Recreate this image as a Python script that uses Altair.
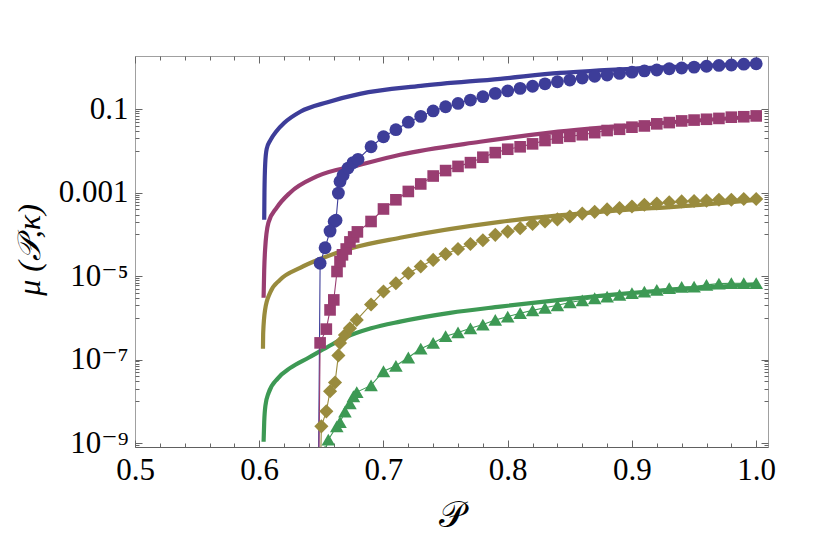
import altair as alt
import pandas as pd

# ---------------- series / styling keys ----------------
SERIES = ["s1", "s2", "s3", "s4"]
COLORS = ["#3D3D99", "#993D71", "#998B3D", "#3D9954"]
SHAPES = ["circle", "square", "diamond", "triangle-up"]
SIZES = [165, 135, 200, 185]

# ---------------- analytic (thick) curves ----------------
blue_curve_x = [0.6040, 0.6042, 0.6048, 0.6060, 0.6090, 0.6140, 0.6200, 0.6330, 0.6550, 0.6810, 0.7300, 0.7940, 0.8420, 0.9150, 1.0000]
blue_curve_y = [2.24e-4, 1.0e-3, 5.0e-3, 1.12e-2, 1.82e-2, 3.02e-2, 4.68e-2, 8.71e-2, 0.148, 0.234, 0.363, 0.537, 0.741, 0.977, 1.23]

magenta_curve_x = [0.6035, 0.6040, 0.6047, 0.6074, 0.6141, 0.6248, 0.6463, 0.6812, 0.7134, 0.7778, 0.8341, 0.9147, 1.0000]
magenta_curve_y = [3.02e-6, 1.41e-5, 4.27e-5, 1.91e-4, 4.37e-4, 1.0e-3, 2.45e-3, 4.68e-3, 8.13e-3, 1.66e-2, 2.75e-2, 4.47e-2, 6.61e-2]

gold_curve_x = [0.6030, 0.6032, 0.6047, 0.6087, 0.6167, 0.6329, 0.6490, 0.6755, 0.7134, 0.7939, 0.8744, 0.9549, 1.0000]
gold_curve_y = [1.82e-7, 4.47e-7, 1.55e-6, 3.98e-6, 8.13e-6, 1.58e-5, 2.57e-5, 4.79e-5, 8.32e-5, 2.0e-4, 3.47e-4, 5.13e-4, 6.76e-4]

green_curve_x = [0.6035, 0.6040, 0.6050, 0.6075, 0.6150, 0.6250, 0.6400, 0.6550, 0.6700, 0.6900, 0.7134, 0.7536, 0.7939, 0.8422, 0.8744, 0.9549, 1.0000]
green_curve_y = [1.07e-9, 3.16e-9, 7.94e-9, 1.58e-8, 3.55e-8, 6.31e-8, 1.12e-7, 2.0e-7, 3.47e-7, 5.62e-7, 8.13e-7, 1.32e-6, 1.86e-6, 2.69e-6, 3.39e-6, 5.25e-6, 6.31e-6]

# ---------------- data points (markers + thin lines) ----------------
grid_x = [0.69, 0.70, 0.71, 0.72, 0.73, 0.74, 0.75, 0.76, 0.77, 0.78, 0.79,
          0.80, 0.81, 0.82, 0.83, 0.84, 0.85, 0.86, 0.87, 0.88, 0.89,
          0.90, 0.91, 0.92, 0.93, 0.94, 0.95, 0.96, 0.97, 0.98, 0.99, 1.00]

blue_pts_x = [0.6465, 0.649, 0.653, 0.657, 0.6603, 0.6618, 0.6637, 0.665, 0.6675, 0.6715, 0.6755, 0.6795] + grid_x
blue_pts_y = [1e-14, 2.04e-5, 4.79e-5, 1.20e-4, 2.04e-4, 2.19e-4, 9.77e-4, 1.86e-3, 2.63e-3, 3.89e-3, 5.25e-3, 6.31e-3,
              1.26e-2, 2.19e-2, 3.24e-2, 4.90e-2, 6.76e-2, 9.12e-2, 0.115, 0.138, 0.166, 0.200, 0.240,
              0.275, 0.316, 0.355, 0.407, 0.457, 0.501, 0.562, 0.617, 0.661, 0.724,
              0.776, 0.832, 0.871, 0.933, 0.977, 1.023, 1.072, 1.122, 1.148, 1.202, 1.230]

magenta_pts_x = [0.6465, 0.649, 0.654, 0.657, 0.660, 0.6626, 0.665, 0.667, 0.670, 0.673, 0.676, 0.679] + grid_x
magenta_pts_y = [1e-14, 2.51e-7, 5.37e-7, 1.55e-6, 2.69e-6, 1.29e-5, 2.24e-5, 3.24e-5, 4.47e-5, 6.61e-5, 8.71e-5, 1.15e-4,
                 2.04e-4, 4.07e-4, 6.76e-4, 1.07e-3, 1.62e-3, 2.51e-3, 3.39e-3, 4.27e-3, 5.25e-3, 7.08e-3, 9.12e-3,
                 1.10e-2, 1.26e-2, 1.48e-2, 1.78e-2, 2.04e-2, 2.24e-2, 2.45e-2, 2.75e-2, 3.09e-2, 3.31e-2,
                 3.72e-2, 3.98e-2, 4.47e-2, 4.79e-2, 5.25e-2, 5.50e-2, 5.75e-2, 6.03e-2, 6.46e-2, 6.61e-2, 6.92e-2]

gold_pts_x = [0.6465, 0.650, 0.654, 0.657, 0.661, 0.6637, 0.665, 0.669, 0.673, 0.6785] + grid_x
gold_pts_y = [1e-14, 2.51e-9, 5.75e-9, 1.74e-8, 2.82e-8, 1.26e-7, 2.51e-7, 3.89e-7, 5.62e-7, 8.91e-7,
              2.09e-6, 4.27e-6, 6.76e-6, 1.17e-5, 1.70e-5, 2.45e-5, 3.39e-5, 4.47e-5, 5.89e-5, 7.24e-5, 9.77e-5,
              1.17e-4, 1.41e-4, 1.78e-4, 2.04e-4, 2.29e-4, 2.69e-4, 3.16e-4, 3.47e-4, 3.98e-4, 4.27e-4,
              4.68e-4, 5.13e-4, 5.50e-4, 5.89e-4, 6.17e-4, 6.31e-4, 6.46e-4, 6.76e-4, 6.76e-4, 7.08e-4, 7.08e-4]

green_pts_x = [0.653, 0.6556, 0.6624, 0.665, 0.669, 0.673, 0.6758, 0.6785] + grid_x
green_pts_y = [6.31e-10, 1.20e-9, 2.51e-9, 3.16e-9, 5.62e-9, 8.91e-9, 1.32e-8, 1.66e-8,
               2.40e-8, 5.25e-8, 7.08e-8, 1.12e-7, 1.82e-7, 2.51e-7, 3.63e-7, 4.47e-7, 5.62e-7, 6.92e-7, 8.91e-7,
               1.07e-6, 1.29e-6, 1.51e-6, 1.74e-6, 2.00e-6, 2.34e-6, 2.63e-6, 2.95e-6, 3.24e-6, 3.55e-6,
               3.89e-6, 4.27e-6, 4.68e-6, 5.13e-6, 5.50e-6, 5.62e-6, 6.17e-6, 6.61e-6, 6.76e-6, 6.76e-6, 6.76e-6]

# ---------------- axes ----------------
X_DOMAIN = [0.5, 1.0095]
Y_DOMAIN = [8.02e-10, 1.89]
x_major = [0.5, 0.6, 0.7, 0.8, 0.9, 1.0]
x_labels = ["0.5", "0.6", "0.7", "0.8", "0.9", "1.0"]
x_ticks = [round(0.5 + 0.02 * i, 2) for i in range(26)]
y_major = [0.1, 0.001, 1e-5, 1e-7, 1e-9]
y_labels = ["0.1", "0.001", "10\u207b\u2075", "10\u207b\u2077", "10\u207b\u2079"]
y_ticks = y_major + [k * d / 10 for d in y_major for k in range(1, 10) if k * d / 10 >= Y_DOMAIN[0]]

W, H = 633, 391
SERIF = "Liberation Serif, DejaVu Serif, serif"


def label_expr(values, labels):
    expr = "''"
    for v, t in reversed(list(zip(values, labels))):
        expr = f"datum.value == {v!r} ? '{t}' : ({expr})"
    return expr


def tick_size(major, big, small):
    return {"condition": {"test": f"indexof({major!r}, datum.value) >= 0", "value": big}, "value": small}


curves = pd.concat([
    pd.DataFrame({"x": blue_curve_x, "y": blue_curve_y, "series": "s1"}),
    pd.DataFrame({"x": magenta_curve_x, "y": magenta_curve_y, "series": "s2"}),
    pd.DataFrame({"x": gold_curve_x, "y": gold_curve_y, "series": "s3"}),
    pd.DataFrame({"x": green_curve_x, "y": green_curve_y, "series": "s4"}),
])
points = pd.concat([
    pd.DataFrame({"x": blue_pts_x, "y": blue_pts_y, "series": "s1"}),
    pd.DataFrame({"x": magenta_pts_x, "y": magenta_pts_y, "series": "s2"}),
    pd.DataFrame({"x": gold_pts_x, "y": gold_pts_y, "series": "s3"}),
    pd.DataFrame({"x": green_pts_x, "y": green_pts_y, "series": "s4"}),
])

xscale = alt.Scale(domain=X_DOMAIN, nice=False, zero=False)
yscale = alt.Scale(type="log", domain=Y_DOMAIN, nice=False)
color = alt.Color("series:N", scale=alt.Scale(domain=SERIES, range=COLORS), legend=None)
TICK_COLOR = "#666666"

# layer A: thick curves, carries labelled axes
ax_x_labels = alt.Axis(orient="bottom", values=x_major, labelExpr=label_expr(x_major, x_labels),
                       ticks=False, tickSize=0, labelPadding=8, domain=True, domainColor="#606060",
                       labelFlush=False, labelOverlap=False, grid=False,
                       title="\U0001D4AB", titleFont=SERIF, titleFontSize=36, titleFontWeight="normal",
                       titleX=W / 2, titleY=68, titleBaseline="middle", titleAlign="center")
ax_y_labels = alt.Axis(orient="left", values=y_major, labelExpr=label_expr(y_major, y_labels),
                       ticks=False, tickSize=0, labelPadding=7, domain=False,
                       labelFlush=False, labelOverlap=False, grid=False,
                       title="\u03bc (\U0001D4AB,\u03ba)", titleFont=SERIF, titleFontSize=32,
                       titleFontStyle="italic", titleFontWeight="normal",
                       titleX=-106, titleY=H / 2 - 2, titleBaseline="middle", titleAlign="center")
layer_a = alt.Chart(curves).mark_line(strokeWidth=4.2, clip=True, interpolate="monotone").encode(
    x=alt.X("x:Q", scale=xscale, axis=ax_x_labels),
    y=alt.Y("y:Q", scale=yscale, axis=ax_y_labels),
    color=color,
)

# layer B: thin connecting lines, carries inward ticks on bottom and left edges
ax_x_bottom_ticks = alt.Axis(orient="top", offset=-H, values=x_ticks, labels=False, domain=False, grid=False,
                             title=None, tickColor=TICK_COLOR, tickSize=tick_size(x_major, 7, 4))
ax_y_left_ticks = alt.Axis(orient="right", offset=-W, values=y_ticks, labels=False, domain=False, grid=False,
                           title=None, tickColor=TICK_COLOR, tickSize=tick_size(y_major, 7, 4))
layer_b = alt.Chart(points).mark_line(strokeWidth=1.1, clip=True).encode(
    x=alt.X("x:Q", scale=xscale, axis=ax_x_bottom_ticks),
    y=alt.Y("y:Q", scale=yscale, axis=ax_y_left_ticks),
    color=color,
)

# layer C: markers, carries inward ticks on top and right edges
ax_x_top_ticks = alt.Axis(orient="bottom", offset=-H, values=x_ticks, labels=False, domain=False, grid=False,
                          title=None, tickColor=TICK_COLOR, tickSize=tick_size(x_major, 7, 4))
ax_y_right_ticks = alt.Axis(orient="left", offset=-W, values=y_ticks, labels=False, domain=False, grid=False,
                            title=None, tickColor=TICK_COLOR, tickSize=tick_size(y_major, 7, 4))
layer_c = alt.Chart(points).mark_point(filled=True, opacity=1, strokeWidth=0, clip=True).encode(
    x=alt.X("x:Q", scale=xscale, axis=ax_x_top_ticks),
    y=alt.Y("y:Q", scale=yscale, axis=ax_y_right_ticks),
    color=color,
    shape=alt.Shape("series:N", scale=alt.Scale(domain=SERIES, range=SHAPES), legend=None),
    size=alt.Size("series:N", scale=alt.Scale(type="ordinal", domain=SERIES, range=SIZES), legend=None),
)

chart = (
    alt.layer(layer_a, layer_b, layer_c)
    .resolve_axis(x="independent", y="independent")
    .properties(width=W, height=H, autosize=alt.AutoSizeParams(type="none"),
                padding={"left": 127, "top": 48, "right": 50, "bottom": 94}, background="white")
    .configure_view(stroke="#a0a0a0", strokeWidth=1)
    .configure_axis(labelFont=SERIF, labelFontSize=31, labelColor="black", titleColor="black",
                    tickWidth=1)
)

chart.save("out.html", embed_options={"renderer": "svg", "actions": False})
